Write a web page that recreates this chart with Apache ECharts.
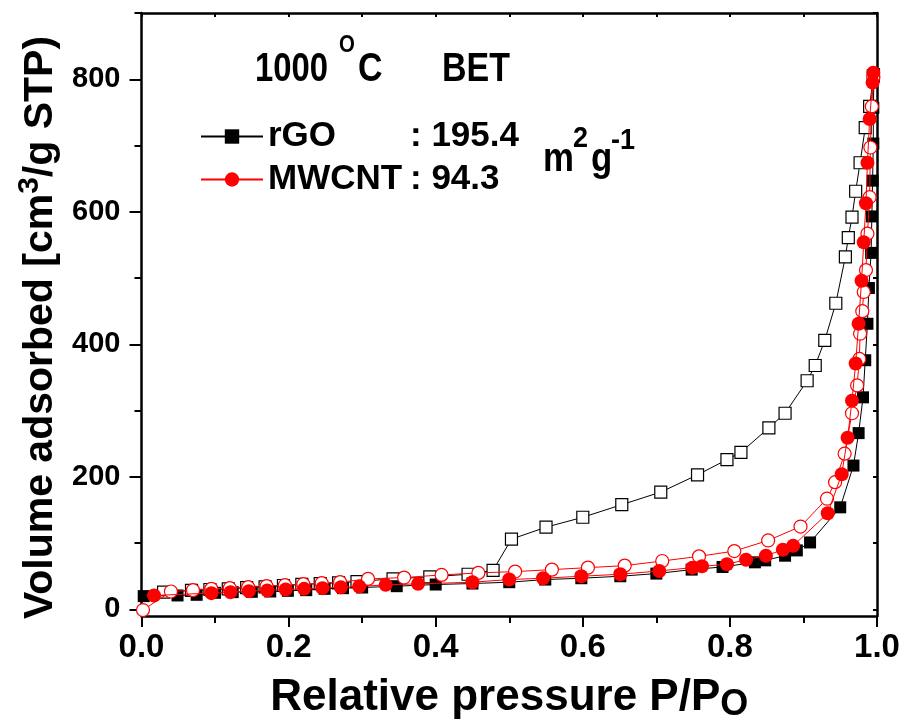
<!DOCTYPE html>
<html>
<head>
<meta charset="utf-8">
<script src="https://cdn.jsdelivr.net/npm/echarts@6/dist/echarts.min.js"></script>
<style>
  html, body { margin: 0; padding: 0; background: #fff; }
  #chart { width: 906px; height: 720px; }
</style>
</head>
<body>
<div id="chart"></div>
<script>
// BET isotherms, 1000 C samples
var SANS = '"Liberation Sans", Arial, sans-serif';

var yMajor = [0, 200, 400, 600, 800];
var yMinor = [100, 300, 500, 700, 900];
var yAll = [0, 100, 200, 300, 400, 500, 600, 700, 800, 900];

var legendNames = ["rGO", "MWCNT"];
var surfaceArea = { rGO: "195.4", MWCNT: "94.3" };

// rGO adsorption (filled squares)
var rgoAds = [
    [0.003, 20], [0.049, 21], [0.075, 22], [0.10, 25], [0.124, 26], [0.15, 26.5],
    [0.175, 27], [0.199, 28], [0.224, 29], [0.249, 31], [0.274, 32], [0.30, 33],
    [0.347, 35], [0.40, 37.5], [0.45, 39], [0.50, 41], [0.549, 45], [0.598, 47],
    [0.651, 50], [0.70, 54], [0.748, 60], [0.79, 64], [0.834, 71], [0.848, 74],
    [0.875, 81], [0.891, 89], [0.909, 101], [0.95, 154], [0.968, 217], [0.975, 266],
    [0.981, 320], [0.984, 376], [0.987, 431], [0.989, 485], [0.992, 538], [0.993, 593],
    [0.994, 647], [0.995, 703], [0.995, 757], [0.996, 808]
];

// rGO desorption (open squares)
var rgoDes = [
    [0.03, 26], [0.068, 28.6], [0.093, 30], [0.118, 31], [0.143, 32.7], [0.168, 34],
    [0.193, 36], [0.218, 37.7], [0.243, 39], [0.268, 40], [0.293, 42], [0.342, 46],
    [0.392, 49], [0.444, 53], [0.478, 59], [0.503, 106], [0.55, 124], [0.60, 139],
    [0.653, 158], [0.706, 177], [0.756, 203], [0.796, 226], [0.815, 237], [0.853, 274],
    [0.875, 296], [0.905, 345], [0.916, 368], [0.929, 406], [0.944, 462], [0.957, 532],
    [0.961, 561], [0.966, 592], [0.971, 631], [0.977, 674], [0.984, 727], [0.990, 759],
    [0.995, 805]
];

// MWCNT adsorption (filled circles)
var cntAds = [
    [0.017, 21], [0.095, 24.5], [0.121, 26], [0.146, 27.5], [0.171, 28.5], [0.196, 30],
    [0.221, 31], [0.246, 32], [0.271, 33.5], [0.296, 34.5], [0.332, 37], [0.376, 38.5],
    [0.45, 41], [0.50, 45], [0.546, 47], [0.598, 50], [0.651, 53], [0.704, 58],
    [0.749, 63], [0.762, 65], [0.796, 68], [0.822, 75], [0.849, 81], [0.872, 90],
    [0.886, 96], [0.933, 145], [0.952, 204], [0.96, 259], [0.966, 315], [0.971, 371],
    [0.975, 431], [0.979, 496], [0.982, 554], [0.985, 613], [0.987, 674], [0.99, 740],
    [0.994, 795], [0.995, 810]
];

// MWCNT desorption (open circles)
var cntDes = [
    [0.002, -1], [0.04, 27], [0.07, 29], [0.095, 31], [0.12, 32], [0.145, 33.5],
    [0.17, 35], [0.195, 36.5], [0.22, 38], [0.245, 39.5], [0.27, 41], [0.308, 46],
    [0.357, 48], [0.408, 52], [0.458, 55], [0.508, 57], [0.558, 60], [0.607, 63],
    [0.657, 66], [0.708, 73], [0.758, 80], [0.806, 88], [0.852, 104], [0.896, 125],
    [0.932, 167], [0.943, 192], [0.956, 235], [0.966, 296], [0.973, 338], [0.976, 378],
    [0.977, 416], [0.980, 450], [0.982, 479], [0.985, 512], [0.987, 567], [0.990, 622],
    [0.991, 697], [0.993, 759], [0.995, 803]
];

var chart = echarts.init(document.getElementById("chart"), null, { renderer: "canvas" });

function frameAxisX(pos, showLabel) {
    return {
        type: "value",
        position: pos,
        min: 0,
        max: 1,
        interval: pos === "bottom" ? 0.2 : 0.1,
        axisLine: { show: true, onZero: false, lineStyle: { color: "#000", width: 2.5 } },
        axisTick: { show: true, inside: pos === "top", length: pos === "top" ? 4 : 11,
            lineStyle: { color: "#000", width: 2 } },
        minorTick: { show: pos === "bottom", splitNumber: 2, length: 7,
            lineStyle: { color: "#000", width: 2 } },
        splitLine: { show: false },
        axisLabel: { show: showLabel }
    };
}

// free text label, squeezed a little like the original export
function label(text, x, y, size, sx) {
    return {
        type: "text",
        x: x,
        y: y,
        scaleX: sx,
        style: { text: text, font: "bold " + size + "px " + SANS, fill: "#000", verticalAlign: "top" }
    };
}

var option = {
    backgroundColor: "#ffffff",
    animation: false,
    grid: { left: 141.5, right: 29, top: 13, bottom: 104, containLabel: false, outerBoundsMode: "none" },
    xAxis: [
        Object.assign(frameAxisX("bottom", true), {
            name: "{a|Relative pressure P/P}{b|O}",
            nameLocation: "middle",
            nameGap: 50,
            nameTextStyle: {
                rich: {
                    a: { fontFamily: SANS, fontWeight: "bold", fontSize: 44, lineHeight: 50, color: "#000" },
                    b: { fontFamily: SANS, fontWeight: "bold", fontSize: 36, lineHeight: 50, color: "#000",
                        verticalAlign: "bottom", padding: [18, 0, 0, 0] }
                }
            },
            axisLabel: {
                show: true,
                margin: 15,
                fontFamily: SANS,
                fontWeight: "bold",
                fontSize: 33,
                color: "#000",
                formatter: function (v) { return v.toFixed(1); }
            }
        }),
        frameAxisX("top", false)
    ],
    yAxis: [
        {
            type: "value",
            position: "left",
            min: -10,
            max: 900,
            axisLine: { show: true, onZero: false, lineStyle: { color: "#000", width: 2.5 } },
            axisTick: { show: true, length: 12, customValues: yMajor, lineStyle: { color: "#000", width: 2 } },
            axisLabel: {
                customValues: yMajor,
                margin: 21,
                fontFamily: SANS,
                fontWeight: "bold",
                fontSize: 29,
                color: "#000"
            },
            splitLine: { show: false },
            name: "{a|Volume adsorbed [cm}{s|3}{a|/g STP)}",
            nameLocation: "middle",
            nameGap: 61,
            nameRotate: 90,
            nameTextStyle: {
                padding: [0, 26, 0, 0],
                rich: {
                    a: { fontFamily: SANS, fontWeight: "bold", fontSize: 41, lineHeight: 46, color: "#000",
                        verticalAlign: "bottom" },
                    s: { fontFamily: SANS, fontWeight: "bold", fontSize: 30, lineHeight: 46, color: "#000",
                        verticalAlign: "top", padding: [0, 0, 16, 0] }
                }
            }
        },
        {
            type: "value",
            position: "left",
            min: -10,
            max: 900,
            axisLine: { show: false },
            axisTick: { show: true, length: 7, customValues: yMinor, lineStyle: { color: "#000", width: 2 } },
            axisLabel: { show: false },
            splitLine: { show: false }
        },
        {
            type: "value",
            position: "right",
            min: -10,
            max: 900,
            axisLine: { show: true, onZero: false, lineStyle: { color: "#000", width: 2.5 } },
            axisTick: { show: true, inside: true, length: 4, customValues: yAll, lineStyle: { color: "#000", width: 2 } },
            axisLabel: { show: false },
            splitLine: { show: false }
        }
    ],
    legend: {
        data: legendNames,
        orient: "vertical",
        left: 200,
        top: 119,
        itemWidth: 62,
        itemHeight: 18,
        itemGap: 8,
        padding: 0,
        formatter: function (name) {
            return "{n|" + name + "}{v|: " + surfaceArea[name] + "}";
        },
        textStyle: {
            fontSize: 35,
            lineHeight: 35,
            rich: {
                n: { width: 142, fontFamily: SANS, fontWeight: "bold", fontSize: 35, lineHeight: 35, color: "#000" },
                v: { fontFamily: SANS, fontWeight: "bold", fontSize: 35, lineHeight: 35, color: "#000" }
            }
        }
    },
    graphic: [
        label("1000", 255, 50, 40, 0.82),
        label("O", 339, 33, 24, 0.85),
        label("C", 358, 50, 40, 0.85),
        label("BET", 442, 50, 40, 0.85),
        label("m", 543, 140, 40, 0.87),
        label("2", 573, 124, 30, 0.9),
        label("g", 591, 140, 40, 0.87),
        label("-1", 611, 126, 30, 0.9)
    ],
    series: [
        {
            name: "rGO desorption",
            type: "line",
            data: rgoDes,
            symbol: "rect",
            symbolSize: 12,
            showAllSymbol: true,
            lineStyle: { color: "#000", width: 1 },
            itemStyle: { color: "#fff", borderColor: "#000", borderWidth: 1.2 },
            z: 2
        },
        {
            name: "rGO",
            type: "line",
            data: rgoAds,
            symbol: "rect",
            symbolSize: 12,
            showAllSymbol: true,
            lineStyle: { color: "#000", width: 1 },
            itemStyle: { color: "#000", borderColor: "#000", borderWidth: 0 },
            z: 3
        },
        {
            name: "MWCNT desorption",
            type: "line",
            data: cntDes,
            symbol: "circle",
            symbolSize: 13,
            showAllSymbol: true,
            lineStyle: { color: "#ff0000", width: 1 },
            itemStyle: { color: "#fff", borderColor: "#ff0000", borderWidth: 1.2 },
            z: 4
        },
        {
            name: "MWCNT",
            type: "line",
            data: cntAds,
            symbol: "circle",
            symbolSize: 14,
            showAllSymbol: true,
            lineStyle: { color: "#ff0000", width: 1 },
            itemStyle: { color: "#ff0000", borderColor: "#ff0000", borderWidth: 0 },
            z: 5
        }
    ]
};

chart.setOption(option);
</script>
</body>
</html>
